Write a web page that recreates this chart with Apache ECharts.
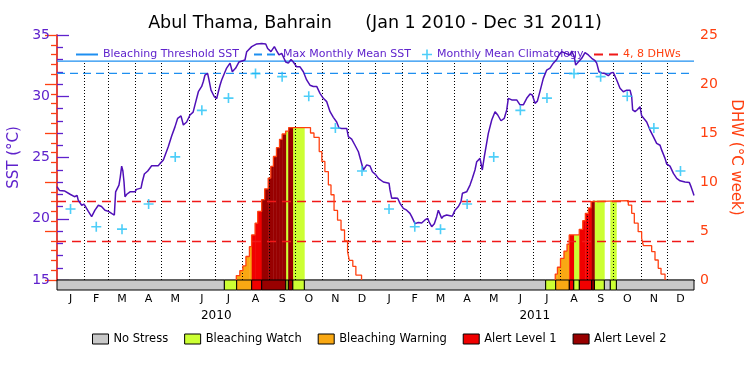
<!DOCTYPE html>
<html>
<head>
<meta charset="utf-8">
<script src="https://cdn.jsdelivr.net/npm/echarts/dist/echarts.min.js"></script>
<style>
html,body{margin:0;padding:0;background:#fff}
#chart{width:750px;height:375px}
</style>
</head>
<body>
<div id="chart"></div>
<script>
// days counted from Jan 1 2010
const DAY0 = Date.UTC(2010, 0, 1);
const dayOf = (y, m, d) => (Date.UTC(y, m, d) - DAY0) / 86400000;
const LAST_DAY = dayOf(2012, 0, 1);

const monthLetters = ['J','F','M','A','M','J','J','A','S','O','N','D'];
const years = [2010, 2011];
const climMonthly = [20.8, 19.35, 19.15, 21.2, 25.05, 28.85, 29.85, 31.85, 31.6, 30.0, 27.4, 23.9];
const MMM = 31.87;
const THRESH = 32.87;
const dhwMarks = [4, 8];

// [day, SST]
const sstPoints = [
  [0,22.62],[1,22.6],[3,22.3],[9,22.26],[15,22.0],[17,21.9],[20,21.8],[23,21.9],[24.4,21.5],[28.3,21.1],
  [31,21.2],[35.9,20.6],[39.7,20.17],[43.5,20.7],[47.4,21.1],[51,21.0],[55,20.7],[59,20.6],[61,20.7],[63.4,20.4],
  [65.7,20.3],[67.2,22.2],[69,22.3],[71,22.75],[72.5,23.4],[74.1,24.3],[75.5,23.9],[76.8,23.0],[77.9,21.8],[80,22.0],
  [83.7,22.2],[89.4,22.2],[91,22.4],[96.3,22.5],[97.7,23.0],[100.1,23.65],[104,23.9],[108.5,24.33],[116,24.33],[118,24.5],
  [121.9,24.8],[127.6,25.9],[131.4,26.76],[135.2,27.5],[138.3,28.2],[142.1,28.4],[144.8,27.65],[148.6,27.9],[152.4,28.47],[156,28.7],
  [158.1,29.3],[162,30.37],[165.8,30.8],[167.7,31.2],[169.6,31.73],[172.6,31.87],[174,31.4],[176.5,30.5],[180.3,29.96],[183,29.8],
  [184.9,30.37],[186.8,30.9],[188.7,31.33],[194.4,32.3],[198.3,32.7],[200.9,32.0],[204.8,32.3],[208.6,32.8],[215.4,32.96],[217.4,33.64],
  [219,33.8],[223.1,34.05],[228.9,34.27],[234.6,34.3],[239.2,34.27],[241.4,33.9],[245.2,33.64],[249.1,34.05],[251.7,33.7],[254.4,33.37],
  [257.5,33.5],[262.1,32.8],[265.1,32.7],[268.2,33.0],[270.8,32.8],[274.7,32.4],[278.5,32.4],[282.3,32.0],[286.1,31.33],[289.9,30.9],
  [293.8,30.8],[297.6,30.8],[301.4,30.24],[305.2,29.83],[309.1,29.56],[312.9,28.74],[316.7,28.28],[320.5,27.9],[323.2,27.4],[326.2,27.37],
  [332,27.37],[333.9,26.7],[337.7,26.5],[341.5,26.0],[345.4,25.47],[348,24.8],[351.1,23.98],[354.9,24.4],[358.7,24.3],[361.4,23.84],
  [365.2,23.6],[368.3,23.3],[374,23.0],[380.5,22.9],[381.6,22.35],[383.6,21.67],[387.4,21.7],[390.4,21.67],[393.1,21.26],[396.9,20.85],
  [400.7,20.7],[404.5,20.44],[406.5,20.17],[408.3,20.03],[410.3,19.6],[414.1,19.7],[417.9,19.65],[421.7,19.9],[424.8,20.03],[426.7,19.7],
  [429.4,19.35],[432.4,19.6],[435.1,20.17],[437,20.7],[439,20.6],[440.9,20.03],[442.7,20.2],[446.6,20.3],[453,20.2],[456.1,20.7],
  [460,21.0],[463,21.4],[464.6,22.08],[469.5,22.2],[473.3,22.75],[476,23.3],[479,23.98],[481,24.66],[484.8,24.93],[487.4,23.98],
  [489.7,25.07],[494.3,26.97],[498.2,28.06],[502,28.74],[505.1,28.47],[508.8,28.0],[512.6,28.2],[515.4,28.88],[517.2,29.83],[521.1,29.7],
  [526.8,29.7],[530.6,29.3],[534.4,29.3],[538.3,29.83],[542.1,30.18],[544.7,30.1],[547.8,29.42],[550.5,29.6],[553.5,30.4],[557.3,31.46],
  [561.2,32.14],[565,32.3],[568.8,32.7],[572.7,33.0],[575.3,33.37],[578.4,33.64],[583,33.5],[587.9,33.37],[589.9,33.7],[592.8,33.2],
  [594.4,32.55],[597.4,32.8],[601.3,33.1],[605.1,33.56],[608.9,33.37],[612.8,33.1],[616.6,32.9],[618.5,32.7],[621.1,32.0],[624.2,31.9],
  [628,31.85],[631.8,31.68],[634.9,31.9],[637.5,31.95],[639.5,31.8],[641.4,31.33],[645.2,30.65],[649,30.37],[652.9,30.5],[656.7,30.5],
  [658.6,29.96],[659.7,28.88],[662.4,28.74],[665,28.9],[668.1,29.15],[670,28.4],[675.8,27.9],[679.6,27.24],[683.4,26.7],[687.2,26.16],
  [691.1,26.0],[693,25.6],[696.8,24.93],[698.7,24.47],[702.5,24.3],[706.4,23.7],[710.2,23.3],[714,23.1],[719.7,23.0],[724.7,22.95],
  [726.7,22.6],[728.6,22.2],[730,21.9]
];

// DHW steps: value holds from this day until the next one; 0 ends an episode
const dhwSteps = [
  [205.5,0.45],[209.5,0.95],[213,1.45],[216.5,2.4],[220.5,3.4],[223,4.6],[227,5.8],[230,7.0],[234.5,8.2],[238,9.3],
  [242,10.4],[245,11.6],[248,12.6],[251.5,13.5],[255,14.35],[258,14.9],[262,15.2],[265.5,15.55],[290.5,15.0],[294.5,14.55],
  [300.5,13.1],[303.5,12.1],[307,11.05],[311,9.7],[314,8.7],[317.5,7.1],[321.5,6.1],[325.5,5.1],[329.5,4.0],[333,2.9],
  [335,2.0],[339,1.4],[342.5,0.5],[349,0],
  [571,0.6],[573.5,1.3],[577,2.2],[581,2.95],[584.5,3.65],[587,4.6],[598.5,5.17],[602.5,6.05],[605.5,6.8],[609,7.35],
  [612,8.0],[614,8.1],[654.7,7.65],[658.6,6.8],[661.6,5.8],[666,4.93],[670,4.25],[672,3.5],[681.5,2.9],[685.3,2.04],
  [689,1.19],[692.2,0.6],[696.8,0]
];

// stress level periods [from, to, level]
const stressPeriods = [
  [0,191.8,0],[191.8,205.9,1],[205.9,223.1,2],[223.1,234.6,3],[234.6,262.1,4],[262.1,265.1,1],[265.1,270.1,4],
  [270.1,283.4,1],[283.4,560,0],[560,571.5,1],[571.5,587.1,2],[587.1,592.1,3],[592.1,598.6,1],[598.6,612.8,3],
  [612.8,615.8,4],[615.8,627.2,1],[627.2,634.1,0],[634.1,641,1],[641,LAST_DAY,0]
];
const stressNames = ['No Stress','Bleaching Watch','Bleaching Warning','Alert Level 1','Alert Level 2'];
const stressColors = ['#c8c8c8','#ccff33','#f9a813','#f00000','#980000'];

const FONT = 'DejaVu Sans';
const SST_COLOR = '#5f22cc';
const DHW_COLOR = '#ff4010';
const BAR_H = 10;
const DOT_TOP = 32.75;

// calendar helpers
const monthStarts = [], monthMids = [], monthLabelOf = {};
years.forEach(y => {
  for (let m = 0; m < 12; m++) {
    const s = dayOf(y, m, 1), e = dayOf(y, m + 1, 1);
    if (s > 0) monthStarts.push(s);
    const mid = (s + e) / 2;
    monthMids.push(mid);
    monthLabelOf[mid] = monthLetters[m];
  }
});
const yearMids = years.map(y => (dayOf(y, 0, 1) + dayOf(y + 1, 0, 1)) / 2);
const climData = monthMids.map((d, i) => [d, climMonthly[i % 12]]);

// DHW line episodes
const dhwEpisodes = [];
let cur = null;
dhwSteps.forEach(p => {
  if (!cur) { cur = [[p[0], 0]]; }
  cur.push(p);
  if (p[1] === 0) { dhwEpisodes.push(cur); cur = null; }
});

// fill + bar items for each stress level
const levelData = stressNames.map(() => []);
stressPeriods.forEach(s => levelData[s[2]].push([s[0], s[1], 0, 1]));
for (let i = 0; i < dhwSteps.length - 1; i++) {
  const a = dhwSteps[i][0], b = dhwSteps[i + 1][0], v = dhwSteps[i][1];
  if (v <= 0) continue;
  stressPeriods.forEach(s => {
    if (s[2] === 0) return;
    const lo = Math.max(a, s[0]), hi = Math.min(b, s[1]);
    if (hi > lo) levelData[s[2]].push([lo, hi, v, 0]);
  });
}

function renderStress(params, api) {
  const p0 = api.coord([api.value(0), 0]);
  const p1 = api.coord([api.value(1), api.value(2)]);
  if (api.value(3) === 1) {
    return {
      type: 'rect',
      shape: { x: p0[0], y: p0[1], width: p1[0] - p0[0], height: BAR_H },
      style: { fill: api.visual('color'), stroke: '#000', lineWidth: 1 },
      z2: 10
    };
  }
  return {
    type: 'rect',
    shape: { x: p0[0], y: p1[1], width: p1[0] - p0[0] + 0.4, height: p0[1] - p1[1] },
    style: { fill: api.visual('color') }
  };
}

const chart = echarts.init(document.getElementById('chart'));

const series = [];
stressNames.forEach((name, i) => {
  series.push({
    name: name,
    type: 'custom',
    xAxisIndex: 0,
    yAxisIndex: 1,
    renderItem: renderStress,
    itemStyle: { color: stressColors[i] },
    encode: { x: [0, 1], y: 2 },
    data: levelData[i],
    clip: false,
    silent: true,
    z: 1
  });
});
series.push({
  name: 'months',
  type: 'line',
  data: [],
  silent: true,
  z: 3,
  markLine: {
    silent: true,
    symbol: 'none',
    label: { show: false },
    lineStyle: { color: '#000', type: [1, 2], width: 1 },
    data: monthStarts.map(d => [{ coord: [d, 15] }, { coord: [d, DOT_TOP] }])
  }
});
series.push({
  name: 'Bleaching Threshold SST',
  type: 'line',
  data: [[0, THRESH], [LAST_DAY, THRESH]],
  symbol: 'none',
  lineStyle: { color: '#1e8ff0', width: 1.3 },
  itemStyle: { color: '#1e8ff0' },
  z: 4
});
series.push({
  name: 'Max Monthly Mean SST',
  type: 'line',
  data: [[0, MMM], [LAST_DAY, MMM]],
  symbol: 'none',
  lineStyle: { color: '#1e8ff0', width: 1.3, type: [8, 5] },
  itemStyle: { color: '#1e8ff0' },
  z: 4
});
series.push({
  name: '4, 8 DHWs',
  type: 'line',
  yAxisIndex: 1,
  data: [],
  symbol: 'none',
  lineStyle: { color: '#f01818', width: 1.3, type: [9, 6] },
  itemStyle: { color: '#f01818' },
  z: 4,
  markLine: {
    silent: true,
    symbol: 'none',
    label: { show: false },
    lineStyle: { color: '#f01818', width: 1.3, type: [9, 6] },
    data: dhwMarks.map(v => ({ yAxis: v }))
  }
});
dhwEpisodes.forEach(ep => {
  series.push({
    name: 'DHW',
    type: 'line',
    yAxisIndex: 1,
    data: ep,
    step: 'end',
    symbol: 'none',
    lineStyle: { color: DHW_COLOR, width: 1.3 },
    silent: true,
    z: 5
  });
});
series.push({
  name: 'SST',
  type: 'line',
  data: sstPoints,
  symbol: 'none',
  lineStyle: { color: '#5010b8', width: 1.5 },
  silent: true,
  z: 6
});
series.push({
  name: 'Monthly Mean Climatology',
  type: 'scatter',
  data: climData,
  symbol: 'path://M0 4.2H10V5.8H0ZM4.2 0H5.8V10H4.2Z',
  symbolSize: 10,
  itemStyle: { color: '#22c2f6' },
  silent: true,
  z: 7
});

function topLegend(name, left, w, color, hideSymbol) {
  const lg = {
    data: [{ name: name, textStyle: { color: color } }],
    left: left, top: 44,
    itemWidth: w, itemHeight: 10,
    selectedMode: false,
    textStyle: { fontFamily: FONT, fontSize: 11, color: color }
  };
  if (hideSymbol) lg.itemStyle = { opacity: 0 };
  return lg;
}

chart.setOption({
  animation: false,
  backgroundColor: '#fff',
  title: {
    text: 'Abul Thama, Bahrain      (Jan 1 2010 - Dec 31 2011)',
    left: 'center', top: 9,
    textStyle: { fontFamily: FONT, fontSize: 17.5, fontWeight: 'normal', color: '#000' }
  },
  legend: [
    topLegend('Bleaching Threshold SST', 70, 22, SST_COLOR, true),
    topLegend('Max Monthly Mean SST', 248, 24, SST_COLOR, true),
    topLegend('Monthly Mean Climatology', 417, 10, SST_COLOR, false),
    topLegend('4, 8 DHWs', 588, 24, DHW_COLOR, true),
    {
      data: stressNames,
      left: 87, top: 328,
      itemWidth: 16, itemHeight: 10, itemGap: 16,
      icon: 'rect',
      selectedMode: false,
      itemStyle: { borderColor: '#000', borderWidth: 1 },
      textStyle: { fontFamily: FONT, fontSize: 11.5, color: '#000' }
    }
  ],
  grid: { left: 57, right: 56, top: 35, bottom: 95, containLabel: false, outerBoundsMode: 'none' },
  xAxis: [
    {
      type: 'value', min: 0, max: LAST_DAY, position: 'top',
      axisLine: { show: true, lineStyle: { color: '#000', width: 1.3 } },
      axisTick: { show: false }, axisLabel: { show: false }, splitLine: { show: false }
    },
    {
      type: 'value', min: 0, max: LAST_DAY, position: 'bottom', offset: BAR_H,
      axisLine: { show: false }, axisTick: { show: false }, splitLine: { show: false },
      axisLabel: {
        customValues: monthMids, margin: 4,
        formatter: v => monthLabelOf[v] || '',
        fontFamily: FONT, fontSize: 11, color: '#000'
      }
    },
    {
      type: 'value', min: 0, max: LAST_DAY, position: 'bottom', offset: BAR_H,
      axisLine: { show: false }, axisTick: { show: false }, splitLine: { show: false },
      axisLabel: {
        customValues: yearMids, margin: 20,
        formatter: v => String(years[yearMids.indexOf(v)] || ''),
        fontFamily: FONT, fontSize: 12, color: '#000'
      }
    }
  ],
  yAxis: [
    {
      type: 'value', min: 15, max: 35, interval: 5, position: 'left',
      name: 'SST (°C)', nameLocation: 'middle', nameGap: 29, nameRotate: 90,
      nameTextStyle: { fontFamily: FONT, fontSize: 15, color: SST_COLOR },
      axisLine: { show: true, lineStyle: { color: SST_COLOR, width: 1.5 } },
      axisTick: { show: true, inside: true, length: 12, lineStyle: { color: SST_COLOR, width: 1.3 } },
      minorTick: { show: true, splitNumber: 5, length: 6, lineStyle: { color: SST_COLOR, width: 1.3 } },
      axisLabel: { fontFamily: FONT, fontSize: 14, color: SST_COLOR, margin: 7 },
      splitLine: { show: false }
    },
    {
      type: 'value', min: 0, max: 25, interval: 5, position: 'right',
      name: 'DHW (°C week)', nameLocation: 'middle', nameGap: 27, nameRotate: -90,
      nameTextStyle: { fontFamily: FONT, fontSize: 15, color: DHW_COLOR },
      axisLine: { show: true, lineStyle: { color: DHW_COLOR, width: 1.5 } },
      axisTick: { show: true, inside: true, length: 12, lineStyle: { color: DHW_COLOR, width: 1.3 } },
      minorTick: { show: true, splitNumber: 5, length: 6, lineStyle: { color: DHW_COLOR, width: 1.3 } },
      axisLabel: { fontFamily: FONT, fontSize: 14, color: DHW_COLOR, margin: 6 },
      splitLine: { show: false }
    }
  ],
  series: series
});
</script>
</body>
</html>
